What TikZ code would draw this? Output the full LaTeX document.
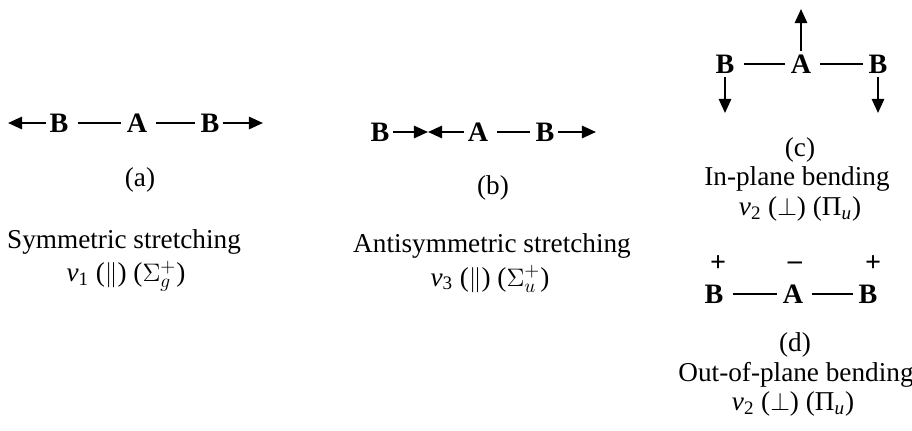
\documentclass[tikz,border=0pt]{standalone}
\usepackage{fontspec}
\setmainfont{Liberation Serif}
\usetikzlibrary{arrows.meta}

\tikzset{
  atom/.style={font=\fontsize{16}{18}\selectfont\bfseries, inner sep=2pt},
  bond/.style={line width=1.1pt, shorten <=3pt, shorten >=1pt},
  motion/.style={line width=1.2pt, -{Triangle[length=8pt, width=7pt]}},
  caption/.style={font=\fontsize{15.5}{18}\selectfont, inner sep=1pt},
  sign/.style={font=\fontsize{16}{18}\selectfont\bfseries, inner sep=0pt}
}

\begin{document}
\begin{tikzpicture}[x=0.02cm, y=-0.02cm]
  \useasboundingbox (0,0) rectangle (912,430);

  % (a) symmetric stretching
  \node[atom] (Ba1) at (59, 123) {B};
  \node[atom] (Aa)  at (137, 123) {A};
  \node[atom] (Ba2) at (210, 123) {B};
  \coordinate (ta1) at (8, 123);
  \coordinate (ta2) at (263, 123);
  \draw[bond] (Ba1) -- (Aa);
  \draw[bond] (Aa) -- (Ba2);
  \draw[motion] (Ba1) -- (ta1);
  \draw[motion] (Ba2) -- (ta2);
  \node[caption] (capa) at (140, 180) {(a)};
  \node[caption] (namea) at (124, 242) {Symmetric stretching};
  \node[caption] (syma) at (126, 276) {\textit{ν}\textsubscript{1} ($\parallel$) ($\Sigma^{+}_{g}$)};

  % (b) antisymmetric stretching
  \node[atom] (Bb1) at (380, 132) {B};
  \node[atom] (Ab)  at (478, 132) {A};
  \node[atom] (Bb2) at (545, 132) {B};
  \coordinate (tb1) at (428, 132);
  \coordinate (tb2) at (596, 132);
  \draw[motion] (Bb1) -- (tb1);
  \draw[motion] (Ab) -- (tb1);
  \draw[bond] (Ab) -- (Bb2);
  \draw[motion] (Bb2) -- (tb2);
  \node[caption] (capb) at (493, 188) {(b)};
  \node[caption] (nameb) at (492, 246) {Antisymmetric stretching};
  \node[caption] (symb) at (490, 279) {\textit{ν}\textsubscript{3} ($\parallel$) ($\Sigma^{+}_{u}$)};

  % (c) in-plane bending
  \node[atom] (Bc1) at (725, 64) {B};
  \node[atom] (Ac)  at (801, 64) {A};
  \node[atom] (Bc2) at (878, 64) {B};
  \coordinate (tc0) at (801, 9);
  \coordinate (tc1) at (725, 113);
  \coordinate (tc2) at (878, 113);
  \draw[bond] (Bc1) -- (Ac);
  \draw[bond] (Ac) -- (Bc2);
  \draw[motion] (Ac) -- (tc0);
  \draw[motion] (Bc1) -- (tc1);
  \draw[motion] (Bc2) -- (tc2);
  \node[caption] (capc) at (800, 150) {(c)};
  \node[caption] (namec) at (797, 179) {In-plane bending};
  \node[caption] (symc) at (800, 209) {\textit{ν}\textsubscript{2} ($\perp$) (Π\textsubscript{\textit{u}})};

  % (d) out-of-plane bending
  \node[atom] (Bd1) at (714, 294) {B};
  \node[atom] (Ad)  at (793, 294) {A};
  \node[atom] (Bd2) at (868, 294) {B};
  \draw[bond] (Bd1) -- (Ad);
  \draw[bond] (Ad) -- (Bd2);
  \node[sign] (pd1) at (718, 264) {+};
  \node[sign] (md)  at (795, 266) {–};
  \node[sign] (pd2) at (873, 264) {+};
  \node[caption] (capd) at (795, 345) {(d)};
  \node[caption] (named) at (796, 375) {Out-of-plane bending};
  \node[caption] (symd) at (793, 404) {\textit{ν}\textsubscript{2} ($\perp$) (Π\textsubscript{\textit{u}})};
\end{tikzpicture}
\end{document}
